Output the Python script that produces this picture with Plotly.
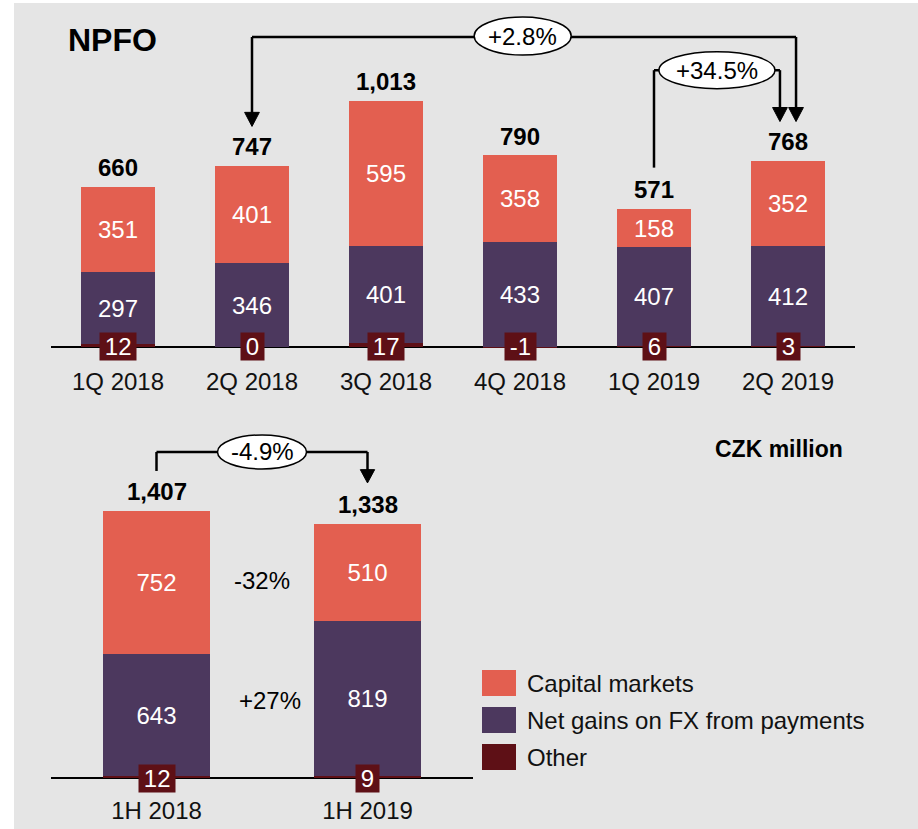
import plotly.graph_objects as go

# ---------------- data ----------------
quarters = ["1Q 2018", "2Q 2018", "3Q 2018", "4Q 2018", "1Q 2019", "2Q 2019"]
q_capital = [351, 401, 595, 358, 158, 352]
q_fx = [297, 346, 401, 433, 407, 412]
q_other = [12, 0, 17, -1, 6, 3]
q_total = [660, 747, 1013, 790, 571, 768]

halves = ["1H 2018", "1H 2019"]
h_capital = [752, 510]
h_fx = [643, 819]
h_other = [12, 9]
h_total = [1407, 1338]

series_names = ["Capital markets", "Net gains on FX from payments", "Other"]
colors = {"Capital markets": "#E35F50", "Net gains on FX from payments": "#4C385E", "Other": "#5E1016"}

# change labels
chg_q_long = "+2.8%"
chg_q_short = "+34.5%"
chg_h = "-4.9%"
chg_h_capital = "-32%"
chg_h_fx = "+27%"

BG = "#E5E5E5"
FONT = "Liberation Sans, Arial, sans-serif"
FS = 24

fig = go.Figure()

def fmt(v):
    return f"{v:,}"

# top chart bars
for name, vals in [("Other", q_other), ("Net gains on FX from payments", q_fx), ("Capital markets", q_capital)]:
    fig.add_trace(go.Bar(
        x=list(range(len(quarters))), y=vals, name=name, marker_color=colors[name],
        marker_line_width=0, width=0.545,
        text=None if name == "Other" else [fmt(v) for v in vals],
        textposition="inside", insidetextanchor="middle",
        textfont=dict(color="white", size=FS, family=FONT),
        xaxis="x", yaxis="y", showlegend=False, hoverinfo="skip"))

# bottom chart bars
for name, vals in [("Other", h_other), ("Net gains on FX from payments", h_fx), ("Capital markets", h_capital)]:
    fig.add_trace(go.Bar(
        x=list(range(len(halves))), y=vals, name=name, marker_color=colors[name],
        marker_line_width=0, width=0.507,
        text=None if name == "Other" else [fmt(v) for v in vals],
        textposition="inside", insidetextanchor="middle",
        textfont=dict(color="white", size=FS, family=FONT),
        xaxis="x2", yaxis="y2", showlegend=False, hoverinfo="skip"))

annotations = []
shapes = []

# background
shapes.append(dict(type="rect", xref="paper", yref="paper", x0=14/918, x1=1, y0=0, y1=1-3/829,
                   fillcolor=BG, line_width=0, layer="below"))

def add_totals(xa, ya, totals):
    for i, t in enumerate(totals):
        annotations.append(dict(x=i, y=t, xref=xa, yref=ya, text=f"<b>{fmt(t)}</b>",
                                showarrow=False, yanchor="bottom", yshift=4,
                                font=dict(size=FS, color="black", family=FONT)))

def add_other(xa, ya, others):
    for i, o in enumerate(others):
        annotations.append(dict(x=i, y=0, xref=xa, yref=ya, text="\u2009" + str(o) + "\u2009",
                                showarrow=False, yanchor="middle", bgcolor=colors["Other"], borderpad=0,
                                font=dict(size=FS, color="white", family=FONT)))

add_totals("x", "y", q_total)
add_totals("x2", "y2", h_total)
add_other("x", "y", q_other)
add_other("x2", "y2", h_other)

LW = 2.5

def line(xa, ya, x0, y0, x1, y1):
    shapes.append(dict(type="line", xref=xa, yref=ya, x0=x0, y0=y0, x1=x1, y1=y1,
                       line=dict(color="black", width=LW)))

def arrowhead(xa, ya, x, ytip, sx, sy):
    shapes.append(dict(type="path", xref=xa, yref=ya,
                       path=f"M {x-sx} {ytip+sy} L {x+sx} {ytip+sy} L {x} {ytip} Z",
                       fillcolor="black", line=dict(color="black", width=1)))

def bubble(xa, ya, xc, yc, w, h, text):
    shapes.append(dict(type="circle", xref=xa, yref=ya, xsizemode="pixel", ysizemode="pixel",
                       xanchor=xc, yanchor=yc, x0=-w/2, x1=w/2, y0=-h/2, y1=h/2,
                       fillcolor="white", line=dict(color="black", width=1.5)))
    annotations.append(dict(x=xc, y=yc, xref=xa, yref=ya, text=text, showarrow=False,
                            font=dict(size=FS, color="black", family=FONT)))

# top: +2.8% (2Q2018 -> 2Q2019)
y_h1 = 1279
line("x", "y", 1, y_h1, 5.06, y_h1)
line("x", "y", 1, y_h1, 1, 960)
line("x", "y", 5.06, y_h1, 5.06, 960)
arrowhead("x", "y", 1, 910, 0.055, 58)
arrowhead("x", "y", 5.06, 930, 0.055, 58)
bubble("x", "y", 3.02, 1283, 97, 38, chg_q_long)

# top: +34.5% (1Q2019 -> 2Q2019)
y_h2 = 1142
line("x", "y", 4, 740, 4, y_h2)
line("x", "y", 4, y_h2, 4.94, y_h2)
line("x", "y", 4.94, y_h2, 4.94, 960)
arrowhead("x", "y", 4.94, 930, 0.055, 58)
bubble("x", "y", 4.47, y_h2, 116, 37, chg_q_short)

# bottom: -4.9%
y_h3 = 1716
line("x2", "y2", 0, 1616, 0, y_h3)
line("x2", "y2", 0, y_h3, 1, y_h3)
line("x2", "y2", 1, y_h3, 1, 1600)
arrowhead("x2", "y2", 1, 1553, 0.034, 70)
bubble("x2", "y2", 0.5, y_h3, 89, 34, chg_h)

annotations.append(dict(x=0.5, y=1037, xref="x2", yref="y2", text=chg_h_capital, showarrow=False,
                        font=dict(size=FS, color="black", family=FONT)))
annotations.append(dict(x=0.54, y=410, xref="x2", yref="y2", text=chg_h_fx, showarrow=False,
                        font=dict(size=FS, color="black", family=FONT)))

# titles
annotations.append(dict(x=66/918, y=1-40/829, xref="paper", yref="paper", text="<b>NPFO</b>",
                        showarrow=False, xanchor="left", yanchor="middle",
                        font=dict(size=32, color="black", family=FONT)))
annotations.append(dict(x=779/918, y=1-449/829, xref="paper", yref="paper", text="<b>CZK million</b>",
                        showarrow=False, xanchor="center", yanchor="middle",
                        font=dict(size=23, color="black", family=FONT)))

# legend (manual)
for k, name in enumerate(series_names):
    yc = 683 + 37 * k
    shapes.append(dict(type="rect", xref="paper", yref="paper", x0=482/918, x1=516/918,
                       y0=1-(yc+13)/829, y1=1-(yc-13)/829, fillcolor=colors[name], line_width=0))
    annotations.append(dict(x=525/918, y=1-yc/829, xref="paper", yref="paper", text=name,
                            showarrow=False, xanchor="left", yanchor="middle",
                            font=dict(size=FS, color="#111111", family=FONT)))

axis_common = dict(showgrid=False, zeroline=False, showline=False, ticks="",
                   tickfont=dict(size=FS, color="#111111", family=FONT), fixedrange=True)

fig.update_layout(
    width=918, height=829, margin=dict(l=0, r=0, t=0, b=0),
    paper_bgcolor="white", plot_bgcolor="rgba(0,0,0,0)",
    barmode="relative", bargap=0,
    xaxis=dict(domain=[51/918, 855/918], range=[-0.5, 5.5], tickmode="array",
               tickvals=list(range(len(quarters))), ticktext=quarters, anchor="y", **axis_common),
    yaxis=dict(domain=[1-365/829, 1], range=[-74.3, 1431.5], showticklabels=False,
               showgrid=False, zeroline=True, zerolinecolor="black", zerolinewidth=1.5,
               showline=False, fixedrange=True),
    xaxis2=dict(domain=[51/918, 473/918], range=[-0.5, 1.5], tickmode="array",
                tickvals=list(range(len(halves))), ticktext=halves, anchor="y2", **axis_common),
    yaxis2=dict(domain=[1-794/829, 1-420/829], range=[-84.2, 1884.2], showticklabels=False,
                showgrid=False, zeroline=True, zerolinecolor="black", zerolinewidth=1.5,
                showline=False, fixedrange=True, anchor="x2"),
    shapes=shapes, annotations=annotations,
    uniformtext=dict(minsize=14, mode="show"),
)

fig.write_html("out.html", config={"displayModeBar": False},
               post_script="document.body.style.margin='0px';document.body.style.padding='0px';")
